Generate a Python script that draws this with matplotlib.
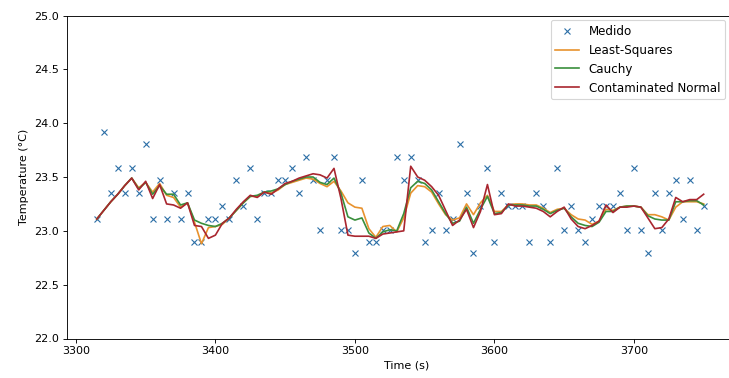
import matplotlib
matplotlib.use("Agg")
import matplotlib.pyplot as plt

# sample times (s), one reading every 5 s
time_s = [3315, 3320, 3325, 3330, 3335, 3340, 3345, 3350, 3355, 3360,
          3365, 3370, 3375, 3380, 3385, 3390, 3395, 3400, 3405, 3410,
          3415, 3420, 3425, 3430, 3435, 3440, 3445, 3450, 3455, 3460,
          3465, 3470, 3475, 3480, 3485, 3490, 3495, 3500, 3505, 3510,
          3515, 3520, 3525, 3530, 3535, 3540, 3545, 3550, 3555, 3560,
          3565, 3570, 3575, 3580, 3585, 3590, 3595, 3600, 3605, 3610,
          3615, 3620, 3625, 3630, 3635, 3640, 3645, 3650, 3655, 3660,
          3665, 3670, 3675, 3680, 3685, 3690, 3695, 3700, 3705, 3710,
          3715, 3720, 3725, 3730, 3735, 3740, 3745, 3750]

medido = [23.11, 23.92, 23.35, 23.58, 23.35, 23.58, 23.35, 23.81, 23.11, 23.47,
          23.11, 23.35, 23.11, 23.35, 22.90, 22.90, 23.11, 23.11, 23.23, 23.11,
          23.47, 23.23, 23.58, 23.11, 23.35, 23.35, 23.47, 23.47, 23.58, 23.35,
          23.69, 23.47, 23.01, 23.47, 23.69, 23.01, 23.01, 22.79, 23.47, 22.90,
          22.90, 23.01, 23.01, 23.69, 23.47, 23.69, 23.47, 22.90, 23.01, 23.35,
          23.01, 23.11, 23.81, 23.35, 22.79, 23.23, 23.58, 22.90, 23.35, 23.23,
          23.23, 23.23, 22.90, 23.35, 23.23, 22.90, 23.58, 23.01, 23.23, 23.01,
          22.90, 23.11, 23.23, 23.23, 23.23, 23.35, 23.01, 23.58, 23.01, 22.79,
          23.35, 23.01, 23.35, 23.47, 23.11, 23.47, 23.01, 23.23]

least_squares = [23.11, 23.19, 23.27, 23.34, 23.42, 23.49, 23.40, 23.45, 23.36, 23.44,
                 23.33, 23.31, 23.22, 23.26, 23.08, 22.88, 23.03, 23.04, 23.06, 23.12,
                 23.19, 23.26, 23.32, 23.32, 23.36, 23.35, 23.38, 23.43, 23.45, 23.47,
                 23.49, 23.48, 23.44, 23.41, 23.46, 23.37, 23.26, 23.22, 23.21, 23.02,
                 22.94, 23.04, 23.05, 22.99, 23.12, 23.35, 23.42, 23.41, 23.36, 23.25,
                 23.15, 23.10, 23.12, 23.25, 23.15, 23.26, 23.33, 23.18, 23.18, 23.24,
                 23.25, 23.25, 23.24, 23.24, 23.21, 23.17, 23.20, 23.21, 23.15, 23.11,
                 23.10, 23.06, 23.09, 23.20, 23.19, 23.22, 23.23, 23.23, 23.22, 23.15,
                 23.15, 23.13, 23.10, 23.22, 23.27, 23.27, 23.27, 23.25]

cauchy = [23.11, 23.19, 23.27, 23.34, 23.42, 23.49, 23.39, 23.45, 23.34, 23.42,
          23.34, 23.34, 23.24, 23.26, 23.10, 23.07, 23.05, 23.04, 23.07, 23.12,
          23.19, 23.26, 23.32, 23.33, 23.36, 23.37, 23.39, 23.43, 23.46, 23.48,
          23.50, 23.50, 23.45, 23.43, 23.49, 23.35, 23.13, 23.10, 23.12, 22.98,
          22.93, 22.99, 23.01, 23.00, 23.16, 23.40, 23.46, 23.44, 23.38, 23.27,
          23.16, 23.07, 23.09, 23.22, 23.07, 23.20, 23.32, 23.16, 23.17, 23.24,
          23.24, 23.24, 23.23, 23.23, 23.20, 23.16, 23.19, 23.21, 23.13, 23.07,
          23.05, 23.04, 23.08, 23.18, 23.18, 23.22, 23.23, 23.23, 23.22, 23.14,
          23.11, 23.10, 23.10, 23.27, 23.27, 23.28, 23.28, 23.24]

contaminated = [23.11, 23.19, 23.27, 23.34, 23.42, 23.49, 23.38, 23.46, 23.30, 23.43,
                23.25, 23.24, 23.21, 23.26, 23.05, 23.04, 22.93, 22.96, 23.07, 23.12,
                23.20, 23.27, 23.33, 23.31, 23.36, 23.34, 23.39, 23.44, 23.46, 23.49,
                23.51, 23.53, 23.52, 23.49, 23.58, 23.30, 22.96, 22.95, 22.95, 22.95,
                22.93, 22.97, 22.98, 22.99, 23.00, 23.60, 23.50, 23.47, 23.41, 23.33,
                23.19, 23.05, 23.10, 23.20, 23.03, 23.18, 23.43, 23.15, 23.16, 23.25,
                23.23, 23.23, 23.22, 23.21, 23.18, 23.13, 23.18, 23.22, 23.11, 23.04,
                23.02, 23.05, 23.09, 23.24, 23.17, 23.22, 23.22, 23.23, 23.22, 23.12,
                23.02, 23.03, 23.11, 23.31, 23.27, 23.29, 23.29, 23.34]

fig = plt.figure(figsize=(729 / 80, 378 / 80), dpi=80)
# original picture is cropped just inside the right spine, so push the axes past the edge
ax = fig.add_axes([66.5 / 729, 1 - 338.5 / 378, 680 / 729, 323 / 378])

ax.plot(time_s, medido, "x", color="#2b6ea6", label="Medido")
ax.plot(time_s, least_squares, color="#e8922e", label="Least-Squares")
ax.plot(time_s, cauchy, color="#3a8f3c", label="Cauchy")
ax.plot(time_s, contaminated, color="#a9262f", label="Contaminated Normal")

# keep the same x scale as the 5% auto margins would give (3293..3772 over 667 px)
ax.set_xlim(3293.25, 3293.25 + 680 / 1.395)
ax.set_ylim(22.0, 25.0)
ax.set_xlabel("Time (s)")
ax.set_ylabel("Temperature (°C)")
fig.legend(loc="upper right", bbox_to_anchor=(725 / 729, 1 - 20 / 378),
           borderaxespad=0, fontsize=10.7)

fig.savefig("out.png", dpi=80)
